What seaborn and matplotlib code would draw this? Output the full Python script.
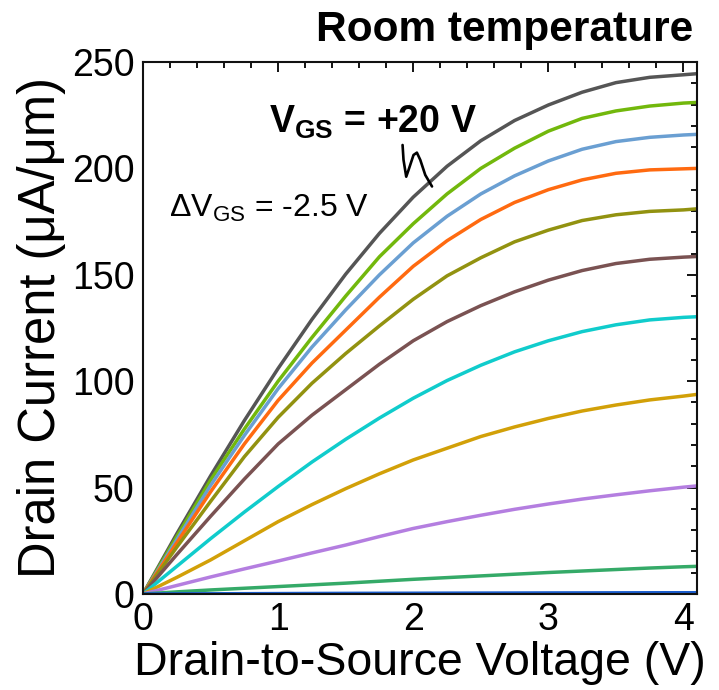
import numpy as np
import pandas as pd
import matplotlib
matplotlib.use("Agg")
import matplotlib.pyplot as plt
import seaborn as sns

# ---- data ----
vds = [0, 0.25, 0.5, 0.75, 1.0, 1.25, 1.5, 1.75, 2.0, 2.25, 2.5, 2.75,
       3.0, 3.25, 3.5, 3.75, 4.0, 4.1]

vgs_labels = ["20", "17.5", "15", "12.5", "10", "7.5", "5", "2.5", "0", "-2.5", "-5"]

id_20 = [0, 28.3, 55.5, 81.5, 106, 129, 150.3, 169.5, 186.5, 201, 213, 222.5,
         229.8, 235.8, 240.3, 242.8, 244, 244.5]
id_17_5 = [0, 27, 53.5, 77.5, 100, 120.5, 140, 158.5, 174, 188, 200, 209.5,
           217.5, 223.5, 227, 229.3, 230.7, 231]
id_15 = [0, 25.5, 51, 74.5, 96.5, 116, 133.5, 150, 165, 177.5, 188, 196.5,
         203.5, 209, 212.6, 214.6, 215.7, 216]
id_12_5 = [0, 24, 48, 70.5, 91, 108.5, 124, 139.5, 154, 166, 176, 184,
           190, 194.6, 197.7, 199.3, 199.8, 200]
id_10 = [0, 22, 43.5, 64.5, 83, 99, 113, 126, 138.5, 149.5, 158, 165.5,
         171, 175.5, 178.2, 179.8, 180.5, 181]
id_7_5 = [0, 18.5, 36.5, 54, 70.5, 84, 96, 108, 119, 128, 135.5, 142,
          147.5, 152, 155.3, 157.3, 158.3, 158.6]
id_5 = [0, 13, 26, 38.5, 50.5, 62, 72.7, 82.7, 92, 100.3, 107.5, 113.8,
        119, 123.3, 126.5, 128.8, 130, 130.3]
id_2_5 = [0, 7.8, 16, 25, 34, 42, 49.5, 56.5, 63, 68.5, 74, 78.5,
          82.5, 86, 88.8, 91.2, 93, 93.8]
id_0 = [0, 4, 8, 11.8, 15.5, 19.3, 23, 27, 30.8, 34, 37, 39.8,
        42.3, 44.6, 46.6, 48.5, 50.2, 50.8]
id_m2_5 = [0, 1.0, 1.9, 2.7, 3.5, 4.3, 5.1, 6.0, 6.9, 7.7, 8.5, 9.3,
           10.1, 10.8, 11.5, 12.2, 12.8, 13.0]
id_m5 = [0, 0.05, 0.1, 0.15, 0.2, 0.25, 0.3, 0.33, 0.36, 0.4, 0.43, 0.46,
         0.5, 0.52, 0.55, 0.58, 0.6, 0.6]

series = [id_20, id_17_5, id_15, id_12_5, id_10, id_7_5, id_5, id_2_5,
          id_0, id_m2_5, id_m5]
colors = ["#555555", "#72b80c", "#6a9fd2", "#ff6a10", "#929210", "#7a5252",
          "#10cccc", "#d2a008", "#b47ee0", "#35aa68", "#1a5ccc"]

df = pd.DataFrame({
    "Vds": np.tile(vds, len(series)),
    "Id": np.concatenate(series),
    "Vgs": np.repeat(vgs_labels, len(vds)),
})

# squiggle annotation path (data coords)
sq_x = [1.921, 1.928, 1.948, 1.965, 2.002, 2.027, 2.052, 2.089, 2.139]
sq_y = [211.0, 204.0, 196.1, 199.2, 206.3, 207.4, 204.0, 196.9, 191.5]

# ---- style ----
sns.set_style("white")
plt.rcParams["font.family"] = ["Liberation Sans", "DejaVu Sans"]
plt.rcParams["mathtext.fontset"] = "custom"
plt.rcParams["mathtext.rm"] = "Liberation Sans"
plt.rcParams["mathtext.it"] = "Liberation Sans:italic"
plt.rcParams["mathtext.bf"] = "Liberation Sans:bold"
plt.rcParams["text.color"] = "black"
plt.rcParams["axes.labelcolor"] = "black"
plt.rcParams["xtick.color"] = "black"
plt.rcParams["ytick.color"] = "black"

fig = plt.figure(figsize=(7.19, 6.90), dpi=100)
ax = fig.add_axes([143 / 719, 1 - 594 / 690, (697 - 143) / 719, (594 - 62) / 690])

sns.lineplot(data=df, x="Vds", y="Id", hue="Vgs", hue_order=vgs_labels,
             palette=colors, linewidth=2.5, legend=False, ax=ax,
             sort=True, estimator=None)

ax.plot(sq_x, sq_y, color="black", lw=1.9, solid_capstyle="round",
        solid_joinstyle="round")

ax.set_xlim(0, 4.1)
ax.set_ylim(0, 250)
ax.set_xticks([0, 1, 2, 3, 4])
ax.set_yticks([0, 50, 100, 150, 200, 250])
ax.set_xticks(np.arange(0, 4.1, 0.2), minor=True)
ax.set_yticks(np.arange(0, 251, 10), minor=True)

ax.tick_params(which="both", direction="in", top=True, right=True,
               width=1.3, color="black")
ax.tick_params(which="major", length=7, labelsize=27, pad=6)
ax.tick_params(which="minor", length=4)
for s in ax.spines.values():
    s.set_linewidth(1.5)
    s.set_color("#111111")

ax.set_xlabel("Drain-to-Source Voltage (V)", fontsize=33.5, labelpad=2)
ax.set_ylabel("Drain Current (\u03bcA/\u03bcm)", fontsize=36.5, labelpad=4)

ax.text(0.93, 216.6, r"$\mathbf{V_{GS}}$ = +20 V", fontsize=27,
        fontweight="bold", ha="left", va="baseline")
ax.text(0.19, 177, "\u0394" + r"$\mathrm{V_{GS}}$ = -2.5 V",
        fontsize=23, ha="left", va="baseline")

fig.text(693 / 719, 1 - 41 / 690, "Room temperature", fontsize=30.5,
         fontweight="bold", ha="right", va="baseline")

fig.savefig("out.png", dpi=100)
